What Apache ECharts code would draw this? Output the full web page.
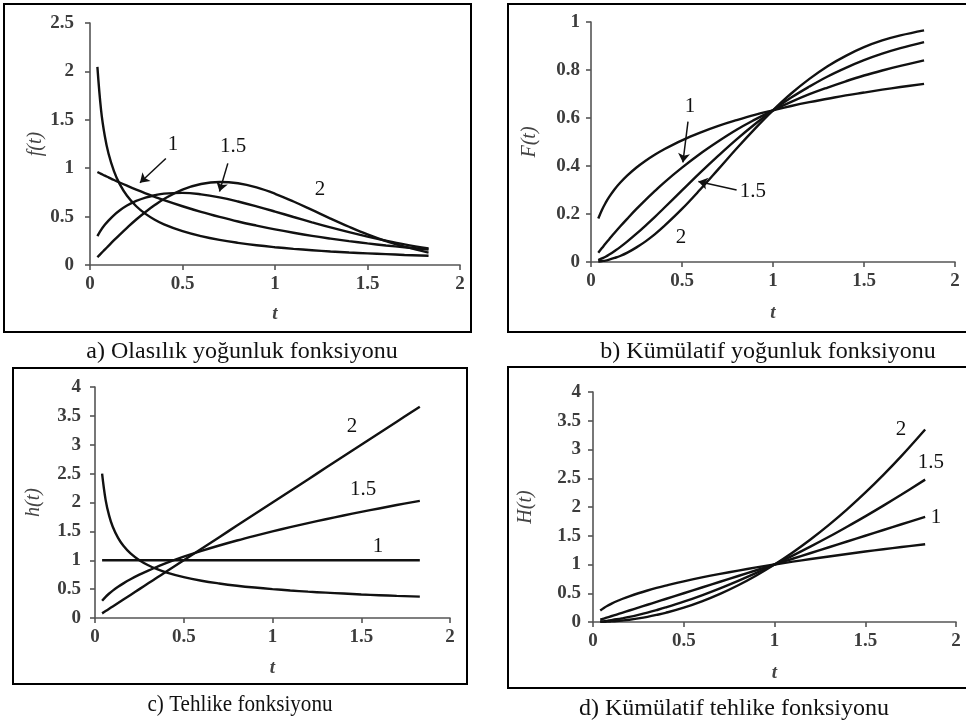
<!DOCTYPE html>
<html><head><meta charset="utf-8">
<script src="https://cdn.jsdelivr.net/npm/echarts@6/dist/echarts.min.js"></script>
<style>html,body{margin:0;padding:0;background:#fff}#c{width:966px;height:722px}</style>
</head><body><div id="c"></div>
<script>
// time points (t)
const tVals = [0.04,0.06,0.08,0.1,0.13,0.16,0.2,0.25,0.3,0.35,0.4,0.5,0.6,0.7,0.8,0.9,1.0,1.1,1.2,1.3,1.4,1.5,1.6,1.7,1.83];

// a) f(t)
const fShape05 = [2.047,1.598,1.332,1.152,0.967,0.838,0.715,0.607,0.528,0.468,0.420,0.349,0.298,0.259,0.229,0.204,0.184,0.167,0.153,0.140,0.129,0.120,0.112,0.104,0.096];
const fShape1  = [0.961,0.942,0.923,0.905,0.878,0.852,0.819,0.779,0.741,0.705,0.670,0.607,0.549,0.497,0.449,0.407,0.368,0.333,0.301,0.273,0.247,0.223,0.202,0.183,0.160];
const fShape15 = [0.298,0.362,0.415,0.459,0.516,0.563,0.614,0.662,0.697,0.721,0.737,0.745,0.730,0.699,0.656,0.606,0.552,0.496,0.441,0.388,0.339,0.293,0.251,0.213,0.171];
const fShape2  = [0.080,0.120,0.159,0.198,0.256,0.312,0.384,0.470,0.548,0.619,0.682,0.779,0.837,0.858,0.844,0.801,0.736,0.656,0.569,0.480,0.395,0.316,0.247,0.189,0.128];

// b) F(t)
const FShape05 = [0.181,0.217,0.246,0.271,0.303,0.330,0.361,0.394,0.422,0.447,0.469,0.507,0.539,0.567,0.591,0.613,0.632,0.650,0.666,0.680,0.694,0.706,0.718,0.729,0.742];
const FShape1  = [0.039,0.058,0.077,0.095,0.122,0.148,0.181,0.221,0.259,0.295,0.330,0.393,0.451,0.503,0.551,0.593,0.632,0.667,0.699,0.727,0.753,0.777,0.798,0.817,0.840];
const FShape15 = [0.008,0.015,0.022,0.031,0.046,0.062,0.086,0.118,0.152,0.187,0.224,0.298,0.372,0.443,0.511,0.574,0.632,0.685,0.731,0.773,0.809,0.841,0.868,0.891,0.916];
const FShape2  = [0.002,0.004,0.006,0.010,0.017,0.025,0.039,0.061,0.086,0.115,0.148,0.221,0.302,0.387,0.473,0.555,0.632,0.702,0.763,0.816,0.859,0.895,0.923,0.944,0.965];

// c) h(t)
const hShape05 = [2.5,2.042,1.768,1.581,1.387,1.25,1.118,1.0,0.913,0.845,0.791,0.707,0.645,0.598,0.559,0.527,0.5,0.477,0.456,0.439,0.423,0.408,0.395,0.383,0.370];
const hShape1  = [1,1,1,1,1,1,1,1,1,1,1,1,1,1,1,1,1,1,1,1,1,1,1,1,1];
const hShape15 = [0.3,0.367,0.424,0.474,0.541,0.6,0.671,0.75,0.822,0.887,0.949,1.061,1.162,1.255,1.342,1.423,1.5,1.573,1.643,1.710,1.775,1.837,1.897,1.956,2.029];
const hShape2  = [0.08,0.12,0.16,0.2,0.26,0.32,0.4,0.5,0.6,0.7,0.8,1.0,1.2,1.4,1.6,1.8,2.0,2.2,2.4,2.6,2.8,3.0,3.2,3.4,3.66];

// d) H(t)
const HShape05 = [0.2,0.245,0.283,0.316,0.361,0.4,0.447,0.5,0.548,0.592,0.632,0.707,0.775,0.837,0.894,0.949,1,1.049,1.095,1.140,1.183,1.225,1.265,1.304,1.353];
const HShape1  = [0.04,0.06,0.08,0.1,0.13,0.16,0.2,0.25,0.3,0.35,0.4,0.5,0.6,0.7,0.8,0.9,1.0,1.1,1.2,1.3,1.4,1.5,1.6,1.7,1.83];
const HShape15 = [0.008,0.015,0.023,0.032,0.047,0.064,0.089,0.125,0.164,0.207,0.253,0.354,0.465,0.586,0.716,0.854,1,1.154,1.315,1.482,1.657,1.837,2.024,2.217,2.476];
const HShape2  = [0.002,0.004,0.006,0.01,0.017,0.026,0.04,0.063,0.09,0.123,0.16,0.25,0.36,0.49,0.64,0.81,1,1.21,1.44,1.69,1.96,2.25,2.56,2.89,3.349];

// axis ticks
const xTicks = {min:0, max:2, interval:0.5};
const yTicksA = {min:0, max:2.5, interval:0.5};
const yTicksB = {min:0, max:1, interval:0.2};
const yTicksC = {min:0, max:4, interval:0.5};
const yTicksD = {min:0, max:4, interval:0.5};

const axisNames = ['f(t)','F(t)','h(t)','H(t)'];
const captions = ['a) Olasılık yoğunluk fonksiyonu','b) Kümülatif yoğunluk fonksiyonu','c) Tehlike fonksiyonu','d) Kümülatif tehlike fonksiyonu'];

const FONT = 'Liberation Serif';
const AX = '#555';
const LBL = '#3c3c3c';

function pairs(ys){ return tVals.map((t,i)=>[t, ys[i]]); }

const grids = [
  {left:90, top:23, width:370, height:242},
  {left:591, top:22, width:364, height:240},
  {left:95, top:387, width:355, height:231},
  {left:593, top:392, width:363, height:230}
];
const yTicks = [yTicksA,yTicksB,yTicksC,yTicksD];
const yLabelMargin = [16,11,14,12];
const yNameGap = [44,51,51,57];
const xNameGap = [40,42,41,42];

const xAxes = grids.map((g,i)=>({
  type:'value', gridIndex:i, min:xTicks.min, max:xTicks.max, interval:xTicks.interval,
  axisLine:{show:true, onZero:false, lineStyle:{color:AX, width:1.6}},
  axisTick:{show:true, length:5, lineStyle:{color:AX, width:1.6}},
  splitLine:{show:false},
  axisLabel:{fontFamily:FONT, fontSize:19, fontWeight:'bold', color:LBL, margin:10},
  name:'t', nameLocation:'middle', nameGap:xNameGap[i],
  nameTextStyle:{fontFamily:FONT, fontStyle:'italic', fontWeight:'bold', fontSize:19, color:'#444'}
}));
const yAxes = grids.map((g,i)=>({
  type:'value', gridIndex:i, min:yTicks[i].min, max:yTicks[i].max, interval:yTicks[i].interval,
  axisLine:{show:true, onZero:false, lineStyle:{color:AX, width:1.6}},
  axisTick:{show:true, length:5, lineStyle:{color:AX, width:1.6}},
  splitLine:{show:false},
  axisLabel:{fontFamily:FONT, fontSize:19, fontWeight:'bold', color:LBL, margin:yLabelMargin[i]},
  name:axisNames[i], nameLocation:'middle', nameGap:yNameGap[i], nameRotate:90,
  nameTextStyle:{fontFamily:FONT, fontStyle:'italic', fontSize:20, color:'#444'}
}));

function lineSeries(idx, ys, extra){
  return Object.assign({
    type:'line', xAxisIndex:idx, yAxisIndex:idx, data:pairs(ys),
    showSymbol:false, symbol:'none', smooth:0.4, silent:true,
    lineStyle:{color:'#111', width:2.4}, z:3
  }, extra||{});
}
function labels(list){
  return {
    symbol:'circle', symbolSize:0, silent:true,
    label:{show:true, position:'inside', formatter:'{b}', fontFamily:FONT, fontSize:21, color:'#111'},
    data:list.map(d=>({name:d[0], coord:[d[1], d[2]]}))
  };
}
function arrows(list){
  return {
    symbol:['none','arrow'], symbolSize:9, silent:true, animation:false,
    lineStyle:{color:'#111', width:1.5, type:'solid'},
    label:{show:false},
    data:list.map(a=>[{coord:[a[0],a[1]]},{coord:[a[2],a[3]]}])
  };
}

const series = [
  lineSeries(0, fShape05),
  lineSeries(0, fShape1, {
    markPoint: labels([['1',0.449,1.24],['1.5',0.773,1.22],['2',1.243,0.775]]),
    markLine: arrows([[0.41,1.10,0.27,0.85],[0.745,1.05,0.70,0.76]])
  }),
  lineSeries(0, fShape15),
  lineSeries(0, fShape2),
  lineSeries(1, FShape05),
  lineSeries(1, FShape1, {
    markPoint: labels([['1',0.544,0.646],['1.5',0.89,0.292],['2',0.495,0.104]]),
    markLine: arrows([[0.533,0.585,0.505,0.415],[0.80,0.30,0.59,0.335]])
  }),
  lineSeries(1, FShape15),
  lineSeries(1, FShape2),
  lineSeries(2, hShape05),
  lineSeries(2, hShape1, {
    markPoint: labels([['2',1.448,3.31],['1.5',1.51,2.22],['1',1.594,1.23]])
  }),
  lineSeries(2, hShape15),
  lineSeries(2, hShape2),
  lineSeries(3, HShape05),
  lineSeries(3, HShape1, {
    markPoint: labels([['2',1.697,3.34],['1.5',1.862,2.77],['1',1.89,1.81]])
  }),
  lineSeries(3, HShape15),
  lineSeries(3, HShape2)
];

const boxStyle = {fill:'none', stroke:'#000', lineWidth:2};
const capStyle = (x,y,t,sx)=>({type:'text', x:x, y:y, scaleX:sx, style:{text:t, fontFamily:FONT, fontSize:24, fill:'#111', textAlign:'center', textVerticalAlign:'middle'}});

const option = {
  animation:false,
  backgroundColor:'#fff',
  grid:grids,
  xAxis:xAxes,
  yAxis:yAxes,
  series:series,
  graphic:[
    {type:'rect', shape:{x:4, y:4, width:467, height:328}, style:boxStyle, silent:true},
    {type:'rect', shape:{x:508, y:4, width:470, height:328}, style:boxStyle, silent:true},
    {type:'rect', shape:{x:13, y:368, width:454, height:316}, style:boxStyle, silent:true},
    {type:'rect', shape:{x:508, y:367, width:470, height:321}, style:boxStyle, silent:true},
    capStyle(242, 352, captions[0], 1),
    capStyle(768, 352, captions[1], 1),
    capStyle(240, 705, captions[2], 0.88),
    capStyle(734, 709, captions[3], 1)
  ]
};
const chart = echarts.init(document.getElementById('c'));
chart.setOption(option);
</script>
</body></html>
